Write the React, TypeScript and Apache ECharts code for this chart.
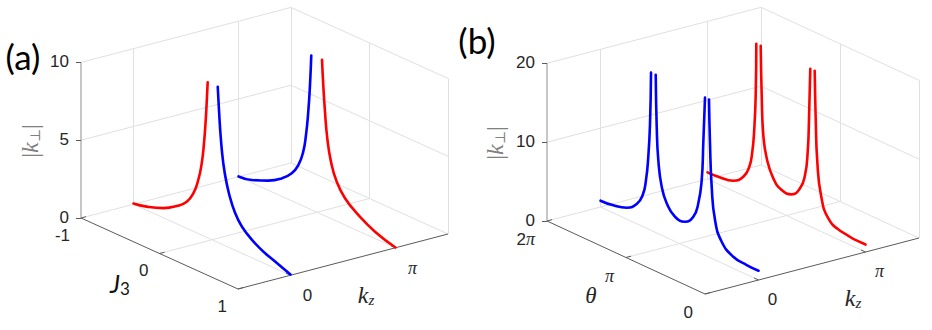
import React, { useEffect, useRef } from "react";
import * as echarts from "echarts";

const PI = Math.PI;

// ---------- data ----------
// Panel (a): |k_perp| versus J3, on the planes kz = 0 and kz = pi
const A_RED_LEFT_J3 = [-1, -0.832, -0.62, -0.45, -0.322, -0.238, -0.175, -0.131, -0.102, -0.08, -0.068, -0.055];
const A_RED_LEFT_K = [0.05, 0.23, 0.62, 1.14, 1.71, 2.44, 3.44, 4.61, 5.96, 7.51, 8.61, 10];
const A_BLUE_LEFT_J3 = [0.073, 0.089, 0.111, 0.144, 0.187, 0.251, 0.335, 0.442, 0.611, 0.781, 1];
const A_BLUE_LEFT_K = [10, 8.54, 6.87, 5.24, 4.05, 2.92, 2.03, 1.42, 0.84, 0.48, 0.05];
const A_BLUE_RIGHT_J3 = [-1, -0.832, -0.62, -0.45, -0.322, -0.238, -0.175, -0.14, -0.111, -0.089, -0.073];
const A_BLUE_RIGHT_K = [0.02, 0.18, 0.62, 1.15, 1.77, 2.49, 3.5, 4.65, 6.21, 7.98, 9.9];
const A_RED_RIGHT_J3 = [0.064, 0.08, 0.102, 0.131, 0.178, 0.251, 0.357, 0.526, 0.739, 1];
const A_RED_RIGHT_K = [9.94, 8.36, 6.7, 5.06, 3.66, 2.54, 1.72, 1.03, 0.44, 0.02];
const A_LEFT_KZ = 0;
const A_RIGHT_KZ = PI;

// Panel (b): |k_perp| versus theta (null = break at a clipped divergence)
const B_BLUE_THETA = [6.283, 5.774, 5.241, 4.844, 4.605, 4.474, 4.383, 4.315, 4.275, null,
  4.088, 4.048, 3.985, 3.85, 3.651, 3.321, 2.923, 2.593, 2.394, 2.259, 2.196, 2.128, null,
  1.969, 1.929, 1.862, 1.73, 1.464, 1.003, 0.47, 0];
const B_BLUE_K = [0.8, 0.96, 1.45, 2.5, 4.0, 6.1, 9.18, 13.4, 20, null,
  20, 13.5, 9.35, 6.17, 4.35, 3.13, 3.08, 4.2, 6.2, 9.36, 14.1, 20, null,
  20, 14.5, 9.1, 5.06, 2.7, 1.48, 1.21, 1.18];
const B_RED_THETA = [6.283, 5.854, 5.257, 4.86, 4.621, 4.502, 4.422, 4.366, 4.343, null,
  4.168, 4.128, 4.064, 3.929, 3.667, 3.333, 2.935, 2.605, 2.406, 2.299, 2.247, 2.196, null,
  2.021, 1.981, 1.917, 1.77, 1.48, 0.947, 0];
const B_RED_K = [0.85, 0.93, 1.29, 2.38, 4.0, 6.09, 9.17, 13.5, 20, null,
  20, 13.8, 8.85, 6.1, 3.94, 2.95, 2.99, 4.24, 6.21, 9.33, 13.6, 20, null,
  20, 14, 8.62, 4.6, 2.1, 1.18, 0.95];
const B_BLUE_KZ = 0;
const B_RED_KZ = PI;

// axis ranges and ticks
const KZ_RANGE = [-PI / 2, (3 * PI) / 2];
const KZ_TICKS = [0, PI];
const KZ_TICK_LABELS = ["0", "π"];
const A_J3_RANGE = [-1, 1];
const A_J3_TICKS = [-1, 0, 1];
const A_J3_TICK_LABELS = ["-1", "0", "1"];
const A_Z_MAX = 10;
const A_Z_TICKS = [0, 5, 10];
const B_THETA_RANGE = [2 * PI, 0];
const B_THETA_TICKS = [2 * PI, PI, 0];
const B_THETA_TICK_LABELS = ["{n|2}{p|π}", "{p|π}", "{n|0}"];
const B_Z_MAX = 20;
const B_Z_TICKS = [0, 10, 20];

// ---------- projection (layout) ----------
type Panel = {
  origin: number[];
  e1: number[];
  e2: number[];
  e3: number[];
  m1: (v: number) => number;
  L1: number;
  L3: number;
};
const m2 = (kz: number) => kz - KZ_RANGE[0];
const L2 = KZ_RANGE[1] - KZ_RANGE[0];

const PANEL_A: Panel = {
  origin: [81, 218],
  e1: [78.5, 35.5],
  e2: [33.42, -8.75],
  e3: [0, -15.56],
  m1: (v) => v - A_J3_RANGE[0],
  L1: A_J3_RANGE[1] - A_J3_RANGE[0],
  L3: A_Z_MAX,
};
const PANEL_B: Panel = {
  origin: [547, 221],
  e1: [25.15, 11.62],
  e2: [34.06, -8.91],
  e3: [0, -7.885],
  m1: (v) => B_THETA_RANGE[0] - v,
  L1: B_THETA_RANGE[0] - B_THETA_RANGE[1],
  L3: B_Z_MAX,
};

function pr(p: Panel, a1: number, a2: number, a3: number) {
  return [
    p.origin[0] + p.e1[0] * a1 + p.e2[0] * a2 + p.e3[0] * a3,
    p.origin[1] + p.e1[1] * a1 + p.e2[1] * a2 + p.e3[1] * a3,
  ];
}
function at(p: Panel, v1: number, kz: number, z: number) {
  return pr(p, p.m1(v1), m2(kz), z);
}

function curveSegments(p: Panel, xs: (number | null)[], ks: (number | null)[], kz: number) {
  const segs: number[][][] = [];
  let cur: number[][] = [];
  xs.forEach((x, i) => {
    const k = ks[i];
    if (x === null || k === null) {
      if (cur.length) segs.push(cur);
      cur = [];
    } else {
      cur.push(at(p, x, kz, k));
    }
  });
  if (cur.length) segs.push(cur);
  return segs;
}

function boxSegments(p: Panel, firstMid: number, zMid: number) {
  const L1 = p.L1, L3 = p.L3;
  const s = (a: number[], b: number[]) => [pr(p, a[0], a[1], a[2]), pr(p, b[0], b[1], b[2])];
  const light = [
    s([0, 0, 0], [0, L2, 0]),
    s([0, 0, L3], [0, L2, L3]),
    s([0, L2, 0], [0, L2, L3]),
    s([0, L2, 0], [L1, L2, 0]),
    s([0, L2, L3], [L1, L2, L3]),
    s([L1, L2, 0], [L1, L2, L3]),
    s([0, 0, zMid], [0, L2, zMid]),
    s([0, L2, zMid], [L1, L2, zMid]),
    s([p.m1(firstMid), L2, 0], [p.m1(firstMid), L2, L3]),
    s([p.m1(firstMid), 0, 0], [p.m1(firstMid), L2, 0]),
  ];
  KZ_TICKS.forEach((t) => {
    light.push(s([0, m2(t), 0], [0, m2(t), L3]));
    light.push(s([0, m2(t), 0], [L1, m2(t), 0]));
  });
  const dark = [s([0, 0, 0], [L1, 0, 0]), s([L1, 0, 0], [L1, L2, 0])];
  const zaxis = [s([0, 0, 0], [0, 0, L3])];
  return { light, dark, zaxis };
}

function tickSegments(p: Panel, firstTicks: number[], zTicks: number[]) {
  const segs: number[][][] = [];
  zTicks.forEach((z) => {
    const a = pr(p, 0, 0, z);
    segs.push([a, [a[0] - 5, a[1]]]);
  });
  firstTicks.forEach((v) => {
    const a = pr(p, p.m1(v), 0, 0);
    const b = pr(p, p.m1(v), 0.15, 0);
    segs.push([a, b]);
  });
  KZ_TICKS.forEach((t) => {
    const a = pr(p, p.L1, m2(t), 0);
    const b = pr(p, p.L1 - 5 / Math.hypot(p.e1[0], p.e1[1]), m2(t), 0);
    segs.push([a, b]);
  });
  return segs;
}

const TICK_FONT = "Liberation Sans, Arial, sans-serif";
const SERIF = "Liberation Serif, DejaVu Serif, serif";
const TICK_COLOR = "#262626";

export default function App() {
  const ref = useRef<HTMLDivElement>(null);
  useEffect(() => {
    if (!ref.current) return;
    const chart = echarts.init(ref.current, null, { renderer: "svg" });

    const series: any[] = [];
    const graphic: any[] = [];

    const addBox = (p: Panel, firstTicks: number[], firstMid: number, zTicks: number[]) => {
      const b = boxSegments(p, firstMid, zTicks[1]);
      series.push({
        type: "lines", coordinateSystem: "cartesian2d", silent: true, z: 1,
        lineStyle: { color: "#e0e0e0", width: 1, opacity: 1 },
        data: b.light.map((c) => ({ coords: c })),
      });
      series.push({
        type: "lines", coordinateSystem: "cartesian2d", silent: true, z: 2,
        lineStyle: { color: "#5a5a5a", width: 1, opacity: 1 },
        data: b.dark.map((c) => ({ coords: c })),
      });
      series.push({
        type: "lines", coordinateSystem: "cartesian2d", silent: true, z: 2,
        lineStyle: { color: "#b3b3b3", width: 1.5, opacity: 1 },
        data: b.zaxis.map((c) => ({ coords: c })),
      });
      series.push({
        type: "lines", coordinateSystem: "cartesian2d", silent: true, z: 2,
        lineStyle: { color: "#5a5a5a", width: 1, opacity: 1 },
        data: tickSegments(p, firstTicks, zTicks).map((c) => ({ coords: c })),
      });
    };
    addBox(PANEL_A, A_J3_TICKS, 0, A_Z_TICKS);
    addBox(PANEL_B, B_THETA_TICKS, PI, B_Z_TICKS);

    const addCurve = (segs: number[][][], color: string, z: number) => {
      segs.forEach((pts) => {
        series.push({
          type: "line", data: pts, showSymbol: false, silent: true, z,
          smooth: 0.5,
          lineStyle: { color, width: 2.6, cap: "round", join: "round" }, itemStyle: { color },
        });
      });
    };
    addCurve(curveSegments(PANEL_A, A_RED_LEFT_J3, A_RED_LEFT_K, A_LEFT_KZ), "#ff0000", 5);
    addCurve(curveSegments(PANEL_A, A_BLUE_LEFT_J3, A_BLUE_LEFT_K, A_LEFT_KZ), "#0000ff", 5);
    addCurve(curveSegments(PANEL_A, A_BLUE_RIGHT_J3, A_BLUE_RIGHT_K, A_RIGHT_KZ), "#0000ff", 5);
    addCurve(curveSegments(PANEL_A, A_RED_RIGHT_J3, A_RED_RIGHT_K, A_RIGHT_KZ), "#ff0000", 5);
    addCurve(curveSegments(PANEL_B, B_RED_THETA, B_RED_K, B_RED_KZ), "#ff0000", 5);
    addCurve(curveSegments(PANEL_B, B_BLUE_THETA, B_BLUE_K, B_BLUE_KZ), "#0000ff", 6);

    const txt = (x: number, y: number, text: string, extra: any = {}, el: any = {}) => {
      graphic.push({
        type: "text", x, y, silent: true, ...el,
        style: {
          text, fill: TICK_COLOR, font: `17px ${TICK_FONT}`,
          align: "right", verticalAlign: "middle", ...extra,
        },
      });
    };
    const richPi = {
      n: { fontFamily: TICK_FONT, fontSize: 17, fill: TICK_COLOR },
      p: { fontFamily: SERIF, fontStyle: "italic", fontSize: 18, fill: TICK_COLOR },
    };

    // panel (a) tick labels
    A_Z_TICKS.forEach((z) => {
      const q = pr(PANEL_A, 0, 0, z);
      txt(q[0] - 12, q[1] - 1, String(z));
    });
    A_J3_TICKS.forEach((v, i) => {
      const q = at(PANEL_A, v, KZ_RANGE[0], 0);
      txt(q[0] - 11, q[1] + 17, A_J3_TICK_LABELS[i]);
    });
    KZ_TICKS.forEach((t, i) => {
      const q = at(PANEL_A, A_J3_RANGE[1], t, 0);
      txt(q[0] + 17, q[1] + 20, `{${i === 0 ? "n" : "p"}|${KZ_TICK_LABELS[i]}}`, { align: "center", rich: richPi });
    });
    // panel (b) tick labels
    B_Z_TICKS.forEach((z) => {
      const q = pr(PANEL_B, 0, 0, z);
      txt(q[0] - 12, q[1] - 1, String(z));
    });
    B_THETA_TICKS.forEach((v, i) => {
      const q = at(PANEL_B, v, KZ_RANGE[0], 0);
      txt(q[0] - 12, q[1] + 18, B_THETA_TICK_LABELS[i], { rich: richPi });
    });
    KZ_TICKS.forEach((t, i) => {
      const q = at(PANEL_B, B_THETA_RANGE[1], t, 0);
      txt(q[0] + 14, q[1] + 19, `{${i === 0 ? "n" : "p"}|${KZ_TICK_LABELS[i]}}`, { align: "center", rich: richPi });
    });

    // axis titles
    const kzRich = {
      k: { fontFamily: SERIF, fontStyle: "italic", fontSize: 24, fill: TICK_COLOR },
      s: { fontFamily: SERIF, fontStyle: "italic", fontSize: 15, fill: TICK_COLOR, padding: [10, 0, 0, 0] },
    };
    txt(366, 295, "{k|k}{s|z}", { align: "center", rich: kzRich });
    txt(853, 298, "{k|k}{s|z}", { align: "center", rich: kzRich });
    txt(120, 283, "{j|J}{s|3}", {
      align: "center",
      rich: {
        j: { fontFamily: "Lato, sans-serif", fontStyle: "italic", fontSize: 25, fill: "#111" },
        s: { fontFamily: "Lato, sans-serif", fontSize: 17, fill: "#111", padding: [10, 0, 0, 0] },
      },
    });
    txt(591, 295, "θ", { align: "center", font: `italic 23px ${SERIF}` });

    const kpRich = {
      b: { fontFamily: SERIF, fontSize: 24, fill: "#808080" },
      k: { fontFamily: SERIF, fontStyle: "italic", fontSize: 24, fill: "#808080" },
      s: { fontFamily: SERIF, fontSize: 14, fill: "#808080", padding: [10, 0, 0, 0] },
    };
    txt(30, 141, "{b||}{k|k}{s|⊥}{b||}", { align: "center", rich: kpRich }, { rotation: PI / 2 });
    txt(495, 143, "{b||}{k|k}{s|⊥}{b||}", { align: "center", rich: kpRich }, { rotation: PI / 2 });

    // panel letters
    txt(23, 56, "(a)", { align: "center", font: `35px Lato, sans-serif`, fill: "#000" });
    txt(477, 40, "(b)", { align: "center", font: `35px Lato, sans-serif`, fill: "#000" });

    chart.setOption({
      animation: false,
      backgroundColor: "#ffffff",
      grid: { left: 0, right: 0, top: 0, bottom: 0, containLabel: false },
      xAxis: { type: "value", min: 0, max: 932, show: false },
      yAxis: { type: "value", min: 0, max: 330, inverse: true, show: false },
      series,
      graphic,
    });
    return () => chart.dispose();
  }, []);

  return (
    <div
      ref={ref}
      style={{ position: "absolute", left: 0, top: 0, width: 932, height: 330 }}
    />
  );
}
